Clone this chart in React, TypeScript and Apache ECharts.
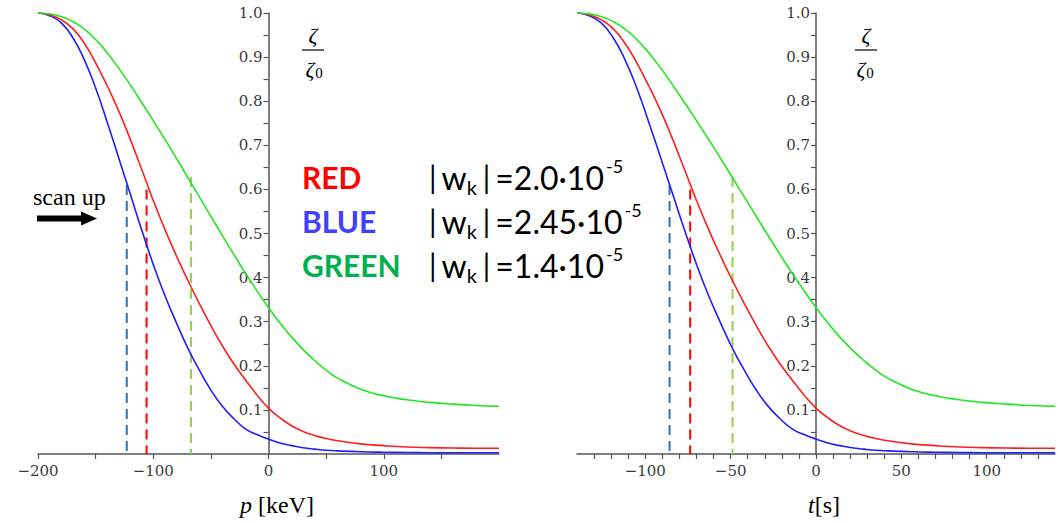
import React, { useEffect, useRef } from "react";
import * as echarts from "echarts";

// Left panel x values (p in keV) and right panel x values (t in s)
const pValues = [-200, -190, -180, -170, -160, -150, -140, -130, -120, -110, -100, -90, -80, -70, -60, -50, -40, -30, -20, -10, 0, 10, 20, 30, 40, 50, 60, 80, 100, 120, 140, 160, 180, 200];
const tValues = [-140, -133, -126, -119, -112, -105, -98, -91, -84, -77, -70, -63, -56, -49, -42, -35, -28, -21, -14, -7, 0, 7, 14, 21, 28, 35, 42, 56, 70, 84, 98, 112, 126, 140];

// zeta / zeta0 (same curves in both panels)
const blueValues = [1.0, 0.994, 0.978, 0.945, 0.895, 0.83, 0.753, 0.672, 0.59, 0.508, 0.43, 0.36, 0.298, 0.24, 0.19, 0.145, 0.108, 0.08, 0.057, 0.044, 0.034, 0.025, 0.019, 0.014, 0.011, 0.0085, 0.007, 0.005, 0.004, 0.0035, 0.003, 0.003, 0.003, 0.003];
const redValues = [1.0, 0.996, 0.985, 0.965, 0.932, 0.887, 0.835, 0.778, 0.714, 0.645, 0.575, 0.51, 0.45, 0.394, 0.341, 0.291, 0.245, 0.204, 0.168, 0.134, 0.104, 0.082, 0.064, 0.051, 0.042, 0.035, 0.03, 0.023, 0.019, 0.016, 0.0145, 0.0135, 0.013, 0.013];
const greenValues = [1.0, 0.998, 0.992, 0.981, 0.964, 0.94, 0.91, 0.875, 0.837, 0.797, 0.756, 0.714, 0.671, 0.627, 0.583, 0.539, 0.495, 0.452, 0.41, 0.37, 0.332, 0.297, 0.265, 0.237, 0.212, 0.19, 0.172, 0.147, 0.132, 0.123, 0.117, 0.113, 0.11, 0.108];

// dashed markers (blue, red, green)
const dashP = [-123, -105.8, -67.2];
const dashT = [-85.8, -73.7, -48.9];
const dashTop = [0.61, 0.6, 0.628];

// ticks and labels
const pLabelValues = [-200, -100, 0, 100];
const pTickValues = [-200, -150, -100, -50, 0, 50, 100, 150];
const tLabelValues = [-100, -50, 0, 50, 100];
const tTickValues = [-130, -120, -110, -100, -90, -80, -70, -60, -50, -40, -30, -20, -10, 0, 10, 20, 30, 40, 50, 60, 70, 80, 90, 100, 110, 120, 130];
const yLabelValues = [0.1, 0.2, 0.3, 0.4, 0.5, 0.6, 0.7, 0.8, 0.9, 1.0];
const yTickValues = [0.05, 0.1, 0.15, 0.2, 0.25, 0.3, 0.35, 0.4, 0.45, 0.5, 0.55, 0.6, 0.65, 0.7, 0.75, 0.8, 0.85, 0.9, 0.95, 1.0];

const curveColors = ["#1f1fff", "#ff1f1f", "#22e622"];
const dashColors = ["#2e75b6", "#ff0000", "#92d050"];

const AXIS_COLOR = "#555";
const LABEL_COLOR = "#3a3a3a";
const SERIF = "DejaVu Serif";

const grids = [
  { left: 38, top: 13, width: 461, height: 441, min: -200, max: 200 },
  { left: 577, top: 13, width: 478, height: 441, min: -140, max: 140 },
];

function xAxisCfg(grid: number, labels: number[], ticks: number[]) {
  const g = grids[grid];
  return {
    type: "value",
    gridIndex: grid,
    min: g.min,
    max: g.max,
    axisLine: { show: true, onZero: false, lineStyle: { color: AXIS_COLOR, width: 1.5 } },
    axisTick: { show: true, customValues: ticks, length: 5, lineStyle: { color: AXIS_COLOR, width: 1.2 } },
    axisLabel: {
      customValues: labels,
      formatter: (v: number) => (v < 0 ? "\u2212" + Math.abs(v) : String(v)),
      fontFamily: SERIF,
      fontSize: 15,
      color: LABEL_COLOR,
      margin: 9,
    },
    splitLine: { show: false },
  };
}

function yAxisCfg(grid: number) {
  const g = grids[grid];
  // place the vertical axis (line, ticks and labels) at x = 0
  const zeroOffset = (g.width * (0 - g.min)) / (g.max - g.min);
  return {
    type: "value",
    gridIndex: grid,
    position: "left",
    offset: -zeroOffset,
    min: 0,
    max: 1,
    axisLine: { show: true, onZero: false, lineStyle: { color: AXIS_COLOR, width: 1.5 } },
    axisTick: { show: true, customValues: yTickValues, length: 5, lineStyle: { color: AXIS_COLOR, width: 1.2 } },
    axisLabel: {
      customValues: yLabelValues,
      formatter: (v: number) => v.toFixed(1),
      fontFamily: SERIF,
      fontSize: 15,
      color: LABEL_COLOR,
      margin: 6,
    },
    splitLine: { show: false },
  };
}

function buildSeries() {
  const series: any[] = [];
  const sets = [blueValues, redValues, greenValues];
  [0, 1].forEach((g) => {
    const xs = g === 0 ? pValues : tValues;
    const dx = g === 0 ? dashP : dashT;
    dx.forEach((x, i) => {
      series.push({
        type: "line",
        xAxisIndex: g,
        yAxisIndex: g,
        data: [
          [x, dashTop[i]],
          [x, 0],
        ],
        showSymbol: false,
        silent: true,
        lineStyle: { color: dashColors[i], width: 2, type: [10, 6] },
        z: 3,
      });
    });
    sets.forEach((vals, i) => {
      series.push({
        type: "line",
        xAxisIndex: g,
        yAxisIndex: g,
        data: xs.map((x, k) => [x, vals[k]]),
        smooth: 0.5,
        showSymbol: false,
        silent: true,
        lineStyle: { color: curveColors[i], width: 1.6 },
        z: 4,
      });
    });
  });
  return series;
}

function fraction(cx: number, lineX1: number, lineX2: number, denX: number, subX: number) {
  return [
    {
      type: "text",
      x: cx,
      y: 35,
      style: { text: "ζ", font: "italic 22px 'Liberation Serif', serif", fill: "#000", align: "center", verticalAlign: "middle" },
    },
    {
      type: "line",
      shape: { x1: lineX1, y1: 50, x2: lineX2, y2: 50 },
      style: { stroke: "#000", lineWidth: 1.2 },
    },
    {
      type: "text",
      x: denX,
      y: 69,
      style: { text: "ζ", font: "italic 22px 'Liberation Serif', serif", fill: "#000", align: "center", verticalAlign: "middle" },
    },
    {
      type: "text",
      x: subX,
      y: 73,
      style: { text: "0", font: "15px 'Liberation Serif', serif", fill: "#000", align: "center", verticalAlign: "middle" },
    },
  ];
}

const formulaRich = {
  b: { fontSize: 30, fontFamily: "Lato", fill: "#000", lineHeight: 40, padding: [0, 5, 0, 5] },
  m: { fontSize: 32, fontFamily: "Lato", fill: "#000", lineHeight: 40 },
  w: { fontSize: 32, fontFamily: "Lato", fill: "#000", lineHeight: 40 },
  s: { fontSize: 20, fontFamily: "Lato", fill: "#000", lineHeight: 20, verticalAlign: "bottom", padding: [0, 1, 0, 0] },
  u: { fontSize: 18, fontFamily: "Lato", fill: "#000", lineHeight: 18, verticalAlign: "top", padding: [0, 0, 0, 2] },
};

function legendRow(name: string, color: string, value: string, y: number) {
  return [
    {
      type: "text",
      x: 302,
      y,
      style: { text: name, font: "bold 30px Lato", fill: color, align: "left", verticalAlign: "middle" },
    },
    {
      type: "text",
      x: 424,
      y,
      style: {
        text: `{b||}{w|w}{s|k}{b||}{m|=${value}·10}{u|-5}`,
        rich: formulaRich,
        align: "left",
        verticalAlign: "middle",
      },
    },
  ];
}

export default function App() {
  const ref = useRef<HTMLDivElement>(null);
  useEffect(() => {
    if (!ref.current) return;
    const chart = echarts.init(ref.current, undefined, { renderer: "svg" });
    chart.setOption({
      animation: false,
      backgroundColor: "#ffffff",
      grid: grids.map((g) => ({ left: g.left, top: g.top, width: g.width, height: g.height })),
      xAxis: [xAxisCfg(0, pLabelValues, pTickValues), xAxisCfg(1, tLabelValues, tTickValues)],
      yAxis: [yAxisCfg(0), yAxisCfg(1)],
      series: buildSeries(),
      graphic: [
        ...fraction(313, 302, 324, 310, 319),
        ...fraction(866, 855, 877, 861, 870),
        ...legendRow("RED", "#ff0000", "2.0", 177),
        ...legendRow("BLUE", "#4040ff", "2.45", 221),
        ...legendRow("GREEN", "#00b050", "1.4", 265),
        {
          type: "text",
          x: 33,
          y: 197,
          style: { text: "scan up", font: "24px 'Liberation Serif', serif", fill: "#000", align: "left", verticalAlign: "middle" },
        },
        {
          type: "polygon",
          shape: {
            points: [
              [37, 215.5],
              [81, 215.5],
              [81, 211.5],
              [97, 218.5],
              [81, 225.5],
              [81, 221.5],
              [37, 221.5],
            ],
          },
          style: { fill: "#000" },
        },
        {
          type: "text",
          x: 277,
          y: 505,
          style: {
            text: "{i|p}{n| [keV]}",
            rich: {
              i: { fontSize: 24, fontFamily: "Liberation Serif", fontStyle: "italic", fill: "#000" },
              n: { fontSize: 24, fontFamily: "Liberation Serif", fill: "#000" },
            },
            align: "center",
            verticalAlign: "middle",
          },
        },
        {
          type: "text",
          x: 824,
          y: 505,
          style: {
            text: "{i|t}{n|[s]}",
            rich: {
              i: { fontSize: 24, fontFamily: "Liberation Serif", fontStyle: "italic", fill: "#000" },
              n: { fontSize: 24, fontFamily: "Liberation Serif", fill: "#000" },
            },
            align: "center",
            verticalAlign: "middle",
          },
        },
      ],
    });
    return () => chart.dispose();
  }, []);
  return (
    <div
      ref={ref}
      style={{ position: "absolute", left: 0, top: 0, width: 1058, height: 523, background: "#fff" }}
    />
  );
}
